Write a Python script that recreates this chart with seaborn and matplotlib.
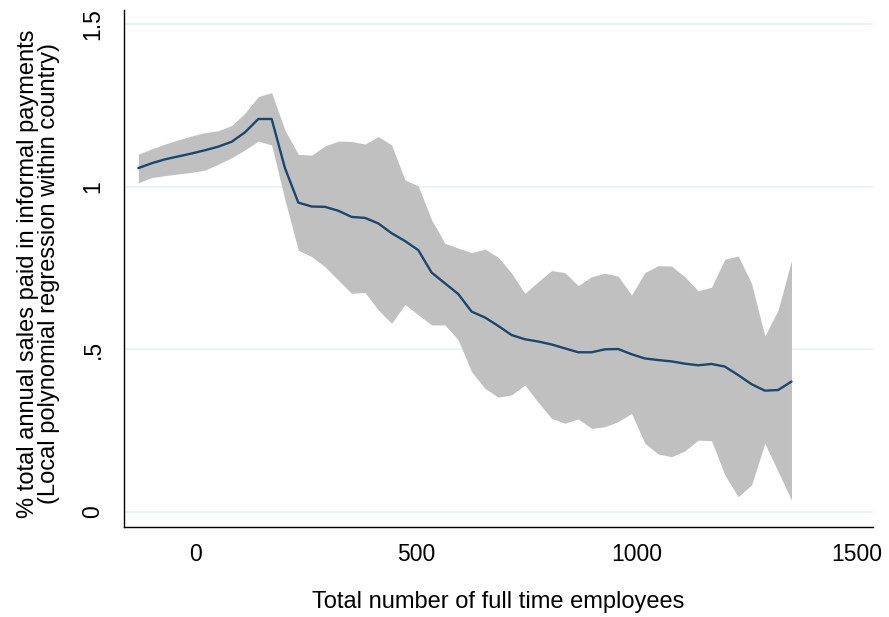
import matplotlib
matplotlib.use("Agg")
import matplotlib.pyplot as plt
import seaborn as sns
import pandas as pd

employees = [-128.5, -98.3, -68.1, -37.9, -7.7, 22.5, 52.7, 82.9, 113.1, 143.3,
             173.5, 203.7, 233.9, 264.1, 294.3, 324.5, 354.7, 384.9, 415.1, 445.3,
             475.5, 505.7, 535.9, 566.1, 596.3, 626.5, 656.7, 686.9, 717.1, 747.3,
             777.5, 807.7, 837.9, 868.1, 898.3, 928.5, 958.7, 988.9, 1019.1, 1049.3,
             1079.5, 1109.7, 1139.9, 1170.1, 1200.3, 1230.5, 1260.7, 1290.9, 1321.1, 1351.3]

fit = [1.057, 1.072, 1.084, 1.093, 1.102, 1.112, 1.123, 1.138, 1.167, 1.208,
       1.208, 1.057, 0.951, 0.939, 0.938, 0.926, 0.907, 0.904, 0.887, 0.857,
       0.833, 0.805, 0.736, 0.703, 0.670, 0.616, 0.598, 0.572, 0.544, 0.531,
       0.524, 0.515, 0.503, 0.491, 0.491, 0.500, 0.501, 0.485, 0.472, 0.467,
       0.463, 0.456, 0.451, 0.455, 0.447, 0.421, 0.393, 0.373, 0.375, 0.401]

upper = [1.100, 1.116, 1.131, 1.144, 1.156, 1.166, 1.172, 1.188, 1.226, 1.277,
         1.289, 1.174, 1.099, 1.097, 1.125, 1.140, 1.139, 1.131, 1.154, 1.128,
         1.021, 1.002, 0.898, 0.826, 0.811, 0.797, 0.808, 0.783, 0.734, 0.672,
         0.708, 0.742, 0.736, 0.696, 0.723, 0.734, 0.725, 0.667, 0.736, 0.757,
         0.756, 0.723, 0.680, 0.691, 0.777, 0.787, 0.703, 0.541, 0.621, 0.773]

lower = [1.012, 1.028, 1.034, 1.039, 1.044, 1.051, 1.069, 1.089, 1.113, 1.140,
         1.128, 0.959, 0.805, 0.785, 0.754, 0.713, 0.672, 0.675, 0.621, 0.580,
         0.638, 0.606, 0.575, 0.575, 0.529, 0.431, 0.380, 0.353, 0.360, 0.390,
         0.337, 0.288, 0.273, 0.286, 0.257, 0.262, 0.278, 0.303, 0.211, 0.178,
         0.170, 0.188, 0.221, 0.219, 0.114, 0.047, 0.083, 0.211, 0.124, 0.037]

x_ticks = [0, 500, 1000, 1500]
y_ticks = [0, 0.5, 1, 1.5]
y_tick_labels = ["0", ".5", "1", "1.5"]

df = pd.DataFrame({"employees": employees, "fit": fit, "upper": upper, "lower": lower})

sns.set_style("white")
plt.rcParams["font.family"] = ["Liberation Sans", "DejaVu Sans"]

fig = plt.figure(figsize=(8.89, 6.17), dpi=100)
ax = fig.add_axes([0.1395, 0.1459, 0.8425, 0.8379])

ax.fill_between(df["employees"], df["lower"], df["upper"], color="#c0c0c0",
                linewidth=0, zorder=2)
sns.lineplot(data=df, x="employees", y="fit", ax=ax, color="#1a476f",
             linewidth=1.7, zorder=3)

ax.set_xlim(-161, 1536)
ax.set_ylim(-0.046, 1.543)
ax.set_xticks(x_ticks)
ax.set_xticklabels([str(t) for t in x_ticks])
ax.set_yticks(y_ticks)
ax.set_yticklabels(y_tick_labels, rotation=90, va="center")

for y in y_ticks:
    ax.axhline(y, color="#eaf2f3", linewidth=1.2, zorder=1)

for s in ["top", "right"]:
    ax.spines[s].set_visible(False)
for s in ["left", "bottom"]:
    ax.spines[s].set_color("black")
    ax.spines[s].set_linewidth(1.0)

ax.tick_params(axis="both", which="major", direction="out", length=7,
               width=1.0, color="black", labelsize=16.5, labelcolor="black")
ax.tick_params(axis="x", pad=4.5)
ax.tick_params(axis="y", pad=7)

ax.set_xlabel("Total number of full time employees", fontsize=17, color="black")
ax.xaxis.set_label_coords(0.5, -0.124)
ax.set_ylabel("% total annual sales paid in informal payments\n(Local polynomial regression within country)",
              fontsize=17, linespacing=0.95, color="black")
ax.yaxis.set_label_coords(-0.085, 0.49)

fig.savefig("out.png", dpi=100)
